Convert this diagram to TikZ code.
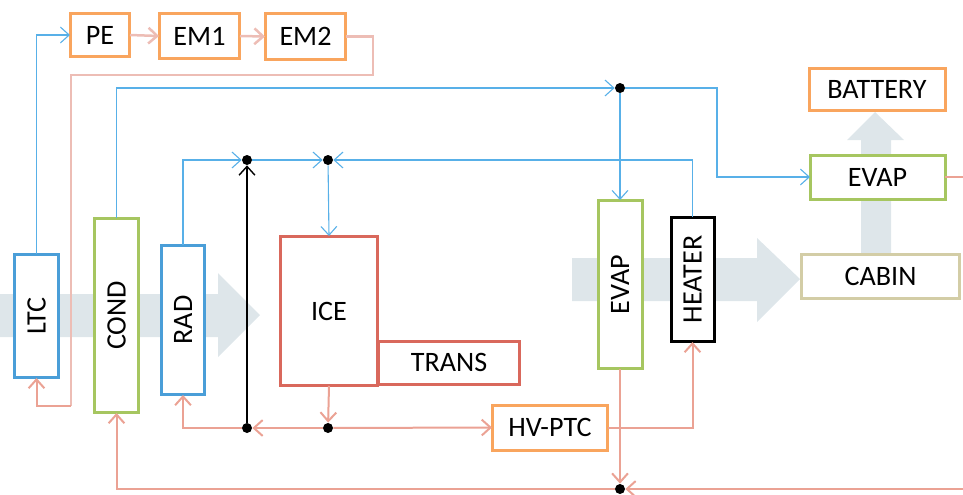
\documentclass[tikz,border=0pt]{standalone}
\usepackage{fontspec}
\setmainfont{Carlito}
\usetikzlibrary{arrows.meta}
\definecolor{boxorange}{HTML}{F9A55E}
\definecolor{boxblue}{HTML}{4A9ED8}
\definecolor{boxgreen}{HTML}{A6C660}
\definecolor{boxred}{HTML}{D9685C}
\definecolor{boxtan}{HTML}{D3CDA6}
\definecolor{coolline}{HTML}{58B0E8}
\definecolor{hotline}{HTML}{EBA294}
\definecolor{paleline}{HTML}{EDBDB5}
\definecolor{airflow}{HTML}{DEE6EA}
\tikzset{
	unit/.style = {draw, fill=white, line width=0.06cm, inner sep=0pt, outer sep=0pt, font=\fontsize{16}{18}\selectfont, text=black},
	orangeunit/.style = {unit, draw=boxorange},
	blueunit/.style = {unit, draw=boxblue, rotate=90},
	greenunit/.style = {unit, draw=boxgreen},
	redunit/.style = {unit, draw=boxred},
	junction/.style = {circle, fill=black, inner sep=0pt, minimum size=0.2cm},
	barb/.style = {-{Straight Barb[length=5pt,width=9pt]}},
	cool/.style = {draw=coolline, line width=0.022cm, barb},
	hot/.style = {draw=hotline, line width=0.04cm, barb},
	hotplain/.style = {draw=hotline, line width=0.04cm},
	pale/.style = {draw=paleline, line width=0.05cm, barb},
	paleplain/.style = {draw=paleline, line width=0.05cm},
	airarrow/.style = {fill=airflow}
}
\begin{document}
\begin{tikzpicture}[x=0.02cm, y=-0.02cm]
	\useasboundingbox (0,0) rectangle (963,494);
	% air flow
	\fill[airarrow] (0,294) -- (218,294) -- (218,273) -- (260,315) -- (218,357) -- (218,337) -- (0,337) -- cycle;
	\fill[airarrow] (572,258) -- (757,258) -- (757,238) -- (800,279) -- (757,322) -- (757,301) -- (572,301) -- cycle;
	\fill[airarrow] (861,256) -- (861,140) -- (847,140) -- (875,112) -- (904,140) -- (891,140) -- (891,256) -- cycle;
	% units
	\node[orangeunit, minimum width=1.2cm, minimum height=0.88cm] (PE) at (100,35) {PE};
	\node[orangeunit, minimum width=1.62cm, minimum height=0.92cm] (EM1) at (199.5,36) {EM1};
	\node[orangeunit, minimum width=1.62cm, minimum height=0.94cm] (EM2) at (305.5,36.5) {EM2};
	\node[blueunit, minimum width=2.48cm, minimum height=0.9cm] (LTC) at (36.5,316) {LTC};
	\node[greenunit, rotate=90, minimum width=3.9cm, minimum height=0.9cm] (COND) at (116.5,315.5) {COND};
	\node[blueunit, minimum width=3cm, minimum height=0.88cm] (RAD) at (183,320) {RAD};
	\node[redunit, minimum width=1.96cm, minimum height=3cm] (ICE) at (329,311) {ICE};
	\node[redunit, minimum width=2.84cm, minimum height=0.86cm] (TRANS) at (449,362.5) {TRANS};
	\node[orangeunit, minimum width=2.32cm, minimum height=0.9cm] (HVPTC) at (550,427.5) {HV-PTC};
	\node[greenunit, rotate=90, minimum width=3.38cm, minimum height=0.88cm] (EVAPfront) at (620,284.5) {EVAP};
	\node[unit, rotate=90, minimum width=2.5cm, minimum height=0.86cm] (HEATER) at (692.5,279.5) {HEATER};
	\node[orangeunit, minimum width=2.72cm, minimum height=0.86cm] (BATTERY) at (877,89.5) {BATTERY};
	\node[greenunit, minimum width=2.7cm, minimum height=0.88cm] (EVAPrear) at (877.5,177) {EVAP};
	\node[unit, draw=boxtan, minimum width=3.18cm, minimum height=0.88cm] (CABIN) at (880.5,276) {CABIN};
	% junctions
	\node[junction] (Ja) at (620,88) {};
	\node[junction] (Jb) at (247,160) {};
	\node[junction] (Jc) at (328,160) {};
	\node[junction] (Jd) at (247,428) {};
	\node[junction] (Je) at (328,428) {};
	\node[junction] (Jf) at (620,489) {};
	\coordinate (OutEvap) at (963,177);
	\coordinate (InEvap) at (963,489);
	\coordinate (TopRight) at (373,75);
	\coordinate (TopLeft) at (71,75);
	\coordinate (LowLeft) at (71,406);
	\coordinate (Bend) at (717,177);
	% cool loop
	\draw[cool] (LTC.east) |- (PE.west);
	\draw[cool] (COND.east) |- (Ja);
	\draw[cool] (Ja) -| (Bend) -- (EVAPrear.west);
	\draw[cool] (Ja) -- (EVAPfront.east);
	\draw[cool] (RAD.east) |- (Jb);
	\draw[cool] (Jb) -- (Jc);
	\draw[cool] (HEATER.east) |- (Jc);
	\draw[cool] (Jc) -- (ICE.north);
	\draw[barb, line width=0.028cm] (Jd) -- (Jb);
	% hot loop
	\draw[pale] (PE.east) -- (EM1.west);
	\draw[pale] (EM1.east) -- (EM2.west);
	\draw[paleplain] (EM2.east) -| (TopRight) -- (TopLeft) -- (LowLeft);
	\draw[hot] (LowLeft) -| (LTC.west);
	\draw[hot] (ICE.south) -- (Je);
	\draw[hot] (Je) -- (Jd);
	\draw[hot] (Jd) -| (RAD.west);
	\draw[hot] (Je) -- (HVPTC.west);
	\draw[hot] (HVPTC.east) -| (HEATER.west);
	\draw[hot] (EVAPfront.west) -- (Jf);
	\draw[hotplain] (EVAPrear.east) -- (OutEvap);
	\draw[hot] (InEvap) -- (Jf);
	\draw[hot] (Jf) -| (COND.west);
\end{tikzpicture}
\end{document}
